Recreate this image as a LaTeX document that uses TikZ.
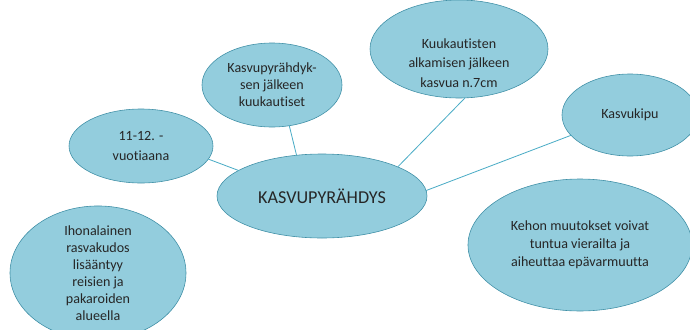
\documentclass[tikz,border=0pt]{standalone}
\usepackage{fontspec}
\setmainfont[Ligatures={NoCommon}]{Carlito}
\usepackage{tikz}
\usetikzlibrary{shapes.geometric}
\definecolor{bubblefill}{HTML}{93CDDD}
\definecolor{bubbleedge}{HTML}{3F8FA6}
\definecolor{linkblue}{HTML}{4BACC6}
\definecolor{inkgray}{HTML}{262626}

\begin{document}
\begin{tikzpicture}[x=0.03cm, y=-0.03cm,
  bubble/.style={ellipse, draw=bubbleedge, line width=0.5pt, fill=bubblefill, inner sep=0pt, outer sep=0pt, align=center, text=inkgray, font=\fontsize{12}{14.5}\selectfont},
  hub/.style={bubble, font=\fontsize{15.5}{18}\selectfont},
  txt/.style={align=center, text=inkgray, inner sep=0pt, font=\fontsize{12}{16.5}\selectfont},
  link/.style={draw=linkblue, line width=0.7pt}
]
\useasboundingbox (0,0) rectangle (690,329);
\node[hub, minimum width=6.3cm, minimum height=2.52cm] (central) at (322,196) {KASVUPYRÄHDYS};
\node[bubble, minimum width=4.32cm, minimum height=2.22cm, font=\fontsize{12}{16.5}\selectfont] (age) at (141,146) {11-12. -\\vuotiaana};
\node[bubble, minimum width=4.2cm, minimum height=2.52cm] (months) at (272,85) {Kasvupyrähdyk-\\sen jälkeen\\kuukautiset};
\node[bubble, minimum width=5.34cm, minimum height=2.94cm] (menarche) at (459,49) {};
\node[txt] (menarche-text) at (459,63) {Kuukautisten\\alkamisen jälkeen\\kasvua n.7cm};
\node[bubble, minimum width=4.08cm, minimum height=2.46cm] (pain) at (630,115) {Kasvukipu};
\node[bubble, minimum width=6.72cm, minimum height=3.96cm, font=\fontsize{12}{15.5}\selectfont] (body) at (580,245) {Kehon muutokset voivat\\tuntua vierailta ja\\aiheuttaa epävarmuutta};
\node[bubble, minimum width=5.28cm, minimum height=3.42cm] (fat) at (98,273) {Ihonalainen\\rasvakudos\\lisääntyy\\reisien ja\\pakaroiden\\alueella};
% links to the hub
\draw[link] (age.349) -- (central.163);
\draw[link] (months.-67) -- (central.122);
\draw[link] (menarche.-83) -- (central.21);
\draw[link] (pain.199) -- (central.3);
\end{tikzpicture}
\end{document}
